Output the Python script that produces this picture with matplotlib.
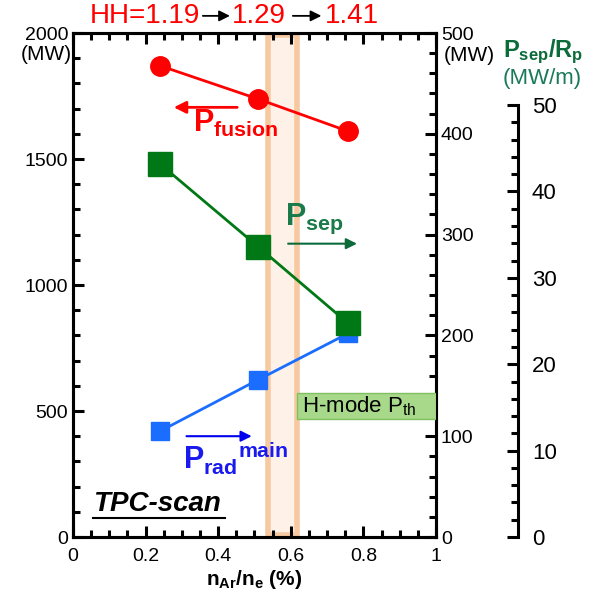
import matplotlib
matplotlib.use("Agg")
import matplotlib.pyplot as plt
from matplotlib.patches import Rectangle
from matplotlib.ticker import MultipleLocator

plt.rcParams['font.family'] = ['Liberation Sans', 'DejaVu Sans']
plt.rcParams['mathtext.fontset'] = 'custom'
plt.rcParams['mathtext.rm'] = 'Liberation Sans'
plt.rcParams['mathtext.it'] = 'Liberation Sans:italic'
plt.rcParams['mathtext.bf'] = 'Liberation Sans:bold'

# argon fraction scan
n_ar = [0.24, 0.51, 0.758]
p_fusion = [1870, 1738, 1610]      # MW, left axis
p_sep = [370, 288, 212]            # MW, right axis
p_rad_main = [105, 156, 202]       # MW, right axis
hh = ["1.19", "1.29", "1.41"]
band = (0.537, 0.617)              # operating window
pth_box = (0.617, 117, 143)        # x start, y low, y high (MW)
rp = 8.57                          # major radius for Psep/Rp scale

fig = plt.figure(figsize=(5.96, 6), dpi=100)
ax = fig.add_axes([0.1225, 0.105, 0.609, 0.84])
ax2 = ax.twinx()
ax3 = ax.twinx()

ax.set_xlim(0, 1)
ax.set_ylim(0, 2000)
ax2.set_ylim(0, 500)
ax3.set_ylim(0, 500 / rp)

red = '#ff0000'
green = '#007816'
blue = '#1a6dff'

# shaded window
ax.add_patch(Rectangle((band[0], 8), band[1] - band[0], 1984,
                       facecolor='#fdf1e8', edgecolor='#f7c9a0', lw=4, zorder=1))

ax.plot(n_ar, p_fusion, '-o', color=red, lw=2, ms=14, zorder=5)
ax2.plot(n_ar, p_sep, '-s', color=green, lw=2, ms=17, zorder=5)
ax2.plot(n_ar, p_rad_main, '-s', color=blue, lw=2, ms=12.5, zorder=4)

# H-mode threshold box
ax2.add_patch(Rectangle((pth_box[0], pth_box[1]), 1 - pth_box[0], pth_box[2] - pth_box[1],
                        facecolor='#a8d88a', edgecolor='#7fc060', lw=1, zorder=3))
ax2.text(0.632, (pth_box[1] + pth_box[2]) / 2, r'H-mode P$_{\rm th}$', fontsize=16,
         va='center', ha='left', zorder=6)

for a in (ax, ax2, ax3):
    a.patch.set_visible(False)
    for s in a.spines.values():
        s.set_linewidth(2.2)

ax.xaxis.set_major_locator(MultipleLocator(0.2))
ax.xaxis.set_minor_locator(MultipleLocator(0.05))
ax.yaxis.set_major_locator(MultipleLocator(500))
ax.yaxis.set_minor_locator(MultipleLocator(100))
ax.tick_params(axis='both', which='both', direction='in', width=2.2, labelsize=14)
ax.tick_params(axis='x', which='both', top=True, pad=8)
ax.tick_params(which='major', length=8)
ax.tick_params(which='minor', length=5)
ax.set_xticks([0, 0.2, 0.4, 0.6, 0.8, 1.0])
ax.set_xticklabels(['0', '0.2', '0.4', '0.6', '0.8', '1'])
ax.set_xlabel(r'$\mathbf{n_{Ar}/n_e}$ (%)', fontsize=15, fontweight='bold', labelpad=2)

ax2.yaxis.set_major_locator(MultipleLocator(100))
ax2.yaxis.set_minor_locator(MultipleLocator(20))
ax2.tick_params(axis='y', which='both', direction='in', width=2.2, labelsize=14)
ax2.tick_params(which='major', length=8)
ax2.tick_params(which='minor', length=5)

ax3.spines['right'].set_position(('axes', 1.226))
ax3.spines['right'].set_bounds(0, 50)
for k in ('left', 'top', 'bottom'):
    ax3.spines[k].set_visible(False)
ax3.set_yticks([0, 10, 20, 30, 40, 50])
ax3.set_yticks([t for t in range(0, 51, 2) if t % 10], minor=True)
ax3.tick_params(axis='y', which='both', direction='in', width=2.2, labelsize=16, pad=10)
ax3.tick_params(which='major', length=8)
ax3.tick_params(which='minor', length=5)

# axis unit labels
ax.text(-0.004, 0.957, '(MW)', transform=ax.transAxes, ha='right', va='center', fontsize=15)
ax2.text(1.022, 0.955, '(MW)', transform=ax.transAxes, ha='left', va='center', fontsize=15)
ax.text(1.185, 0.962, r'$\mathbf{P_{sep}/R_p}$', transform=ax.transAxes, ha='left', va='center',
        fontsize=17, color='#0b6b3a')
ax.text(1.185, 0.909, '(MW/m)', transform=ax.transAxes, ha='left', va='center',
        fontsize=16, color='#1a7a5a')

# HH factor along the top
ax.text(0.047, 1.034, 'HH=' + hh[0], transform=ax.transAxes, color=red, fontsize=20,
        ha='left', va='center')
ax.text(0.438, 1.034, hh[1], transform=ax.transAxes, color=red, fontsize=20, ha='left', va='center')
ax.text(0.694, 1.034, hh[2], transform=ax.transAxes, color=red, fontsize=20, ha='left', va='center')
for x0, x1 in ((0.35, 0.44), (0.598, 0.692)):
    ax.annotate('', xy=(x1, 1.034), xytext=(x0, 1.034), xycoords='axes fraction',
                arrowprops=dict(arrowstyle='-|>', color='k', lw=1.3, mutation_scale=16),
                annotation_clip=False)

# series labels with arrows
ax.annotate('', xy=(0.27, 1705), xytext=(0.46, 1705),
            arrowprops=dict(arrowstyle='-|>', color=red, lw=2, mutation_scale=18))
ax.text(0.33, 1643, r'$\mathbf{P_{fusion}}$', color=red, fontsize=22, va='center')
ax2.annotate('', xy=(0.79, 291), xytext=(0.585, 291),
             arrowprops=dict(arrowstyle='-|>', color='#0b6b3a', lw=1.5, mutation_scale=16))
ax2.text(0.585, 316, r'$\mathbf{P_{sep}}$', color='#1a7a4a', fontsize=22, va='center')
ax2.annotate('', xy=(0.5, 100), xytext=(0.305, 100),
             arrowprops=dict(arrowstyle='-|>', color='#0000ee', lw=1.5, mutation_scale=16))
ax2.text(0.303, 78, r'$\mathbf{{P_{rad}}^{main}}$', color='#1a1aee', fontsize=22, va='center')

# scan label, underlined
ax.text(0.055, 0.052, 'TPC-scan', transform=ax.transAxes, va='baseline',
        fontsize=20, style='italic', fontweight='bold')
ax.plot([0.055, 0.419], [0.038, 0.038], transform=ax.transAxes, color='k', lw=1.5)

fig.savefig('out.png', dpi=100)
